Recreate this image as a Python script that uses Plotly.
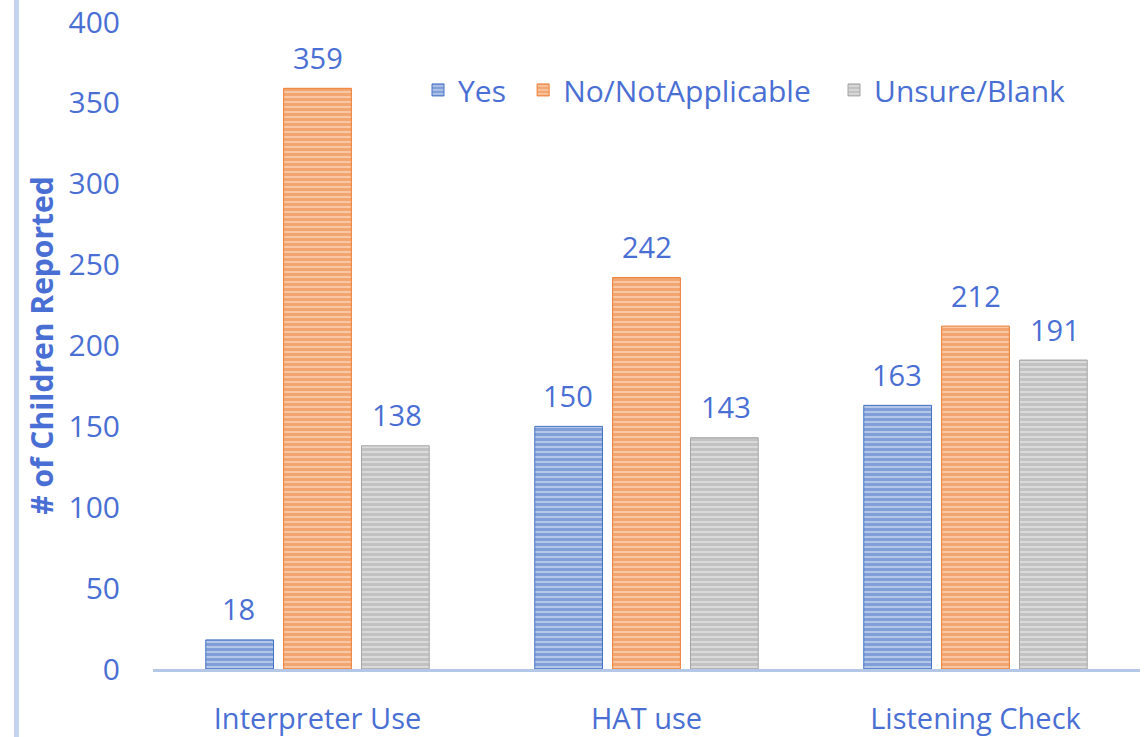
import plotly.graph_objects as go

categories = ["Interpreter Use", "HAT use", "Listening Check"]
yes_vals = [18, 150, 163]
no_vals = [359, 242, 212]
unsure_vals = [138, 143, 191]
series_names = ["Yes", "No/NotApplicable", "Unsure/Blank"]
colors = ["#4472c4", "#ed7d31", "#a5a5a5"]
tints = ["#bccdec", "#f8ccae", "#dedede"]
y_ticks = [0, 50, 100, 150, 200, 250, 300, 350, 400]

txt = "#4a6fd4"
font_family = "Open Sans, Noto Sans, sans-serif"

series = [yes_vals, no_vals, unsure_vals]
legend_ids = ["legend", "legend2", "legend3"]
legend_x = [0.2685, 0.375, 0.690]

fig = go.Figure()
for name, vals, c, t, lg in zip(series_names, series, colors, tints, legend_ids):
    fig.add_trace(go.Bar(
        name=name, x=categories, y=vals, legend=lg,
        marker=dict(color=t, line=dict(width=1, color=c),
                    pattern=dict(shape="-", fgcolor=c, bgcolor=t, size=5, solidity=0.65, fillmode="overlay")),
        hoverinfo="x+y",
    ))

annotations = []
shifts = [-79, 0, 79]
for vals, dx in zip(series, shifts):
    for cat, v in zip(categories, vals):
        annotations.append(dict(x=cat, y=v, xref="x", yref="y", text=str(v), showarrow=False,
                                xshift=dx, yshift=31, font=dict(size=29, color=txt, family=font_family)))

legend_common = dict(orientation="h", y=0.895, xanchor="left", yanchor="middle",
                     font=dict(size=30, color=txt), bgcolor="rgba(0,0,0,0)", itemwidth=30)

fig.update_layout(
    width=1147, height=737,
    margin=dict(l=153, r=7, t=22, b=68, autoexpand=False),
    paper_bgcolor="white", plot_bgcolor="white",
    barmode="group", bargap=0.29, bargroupgap=0.13,
    font=dict(family=font_family, color=txt, size=29),
    showlegend=True,
    legend=dict(x=legend_x[0], **legend_common),
    legend2=dict(x=legend_x[1], **legend_common),
    legend3=dict(x=legend_x[2], **legend_common),
    xaxis=dict(showgrid=False, showline=True, linecolor="#b4c7e7", linewidth=3, automargin=False,
               ticks="", tickfont=dict(size=29, color=txt), ticklabelstandoff=22,
               ticklabeloverflow="allow"),
    yaxis=dict(range=[0, 400], tickvals=y_ticks, showgrid=False, showline=False, zeroline=False,
               automargin=False, ticks="", tickfont=dict(size=30, color=txt), ticklabelstandoff=32,
               ticklabeloverflow="allow",
               title=dict(text="<b># of Children Reported</b>", font=dict(size=30, color=txt), standoff=6)),
    annotations=annotations,
    shapes=[dict(type="line", xref="paper", yref="paper", x0=-0.1383, x1=-0.1383, y0=-0.2, y1=1.2,
                 line=dict(color="#c5d4ee", width=5))],
)

fig.write_html("out.html", config={"displayModeBar": False},
               post_script="document.body.style.margin='0';document.body.style.overflow='hidden';")
